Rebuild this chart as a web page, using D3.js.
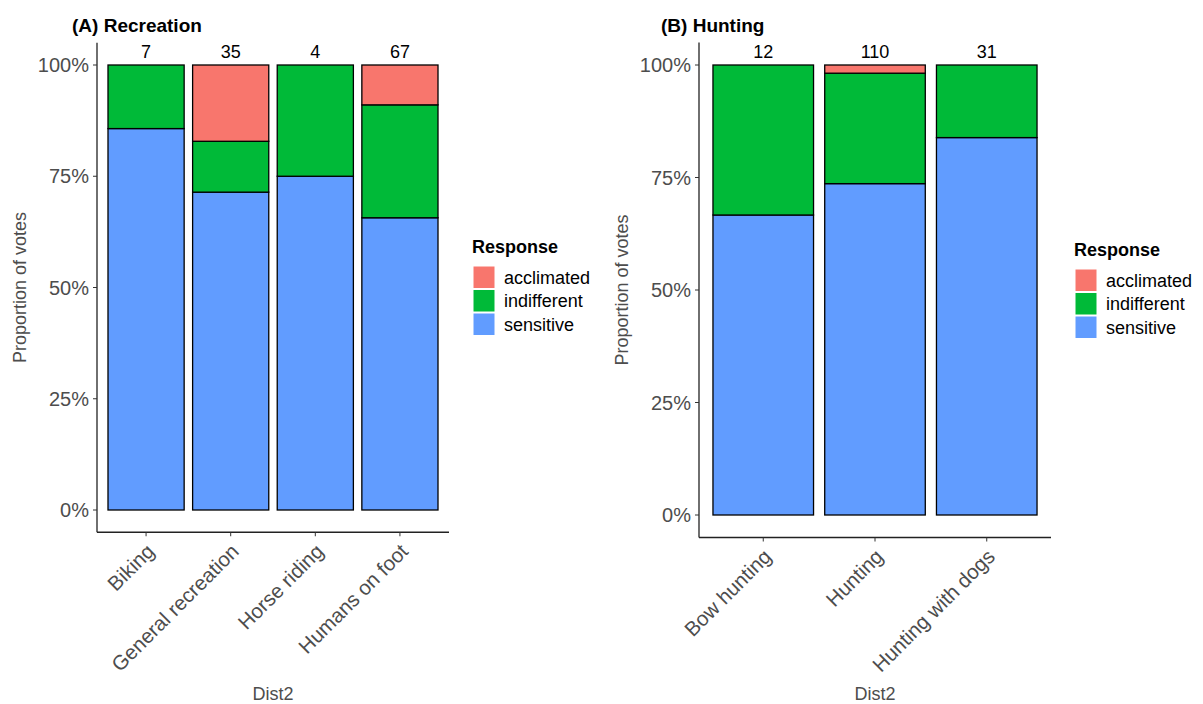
<!DOCTYPE html>
<html><head><meta charset="utf-8">
<script src="https://cdn.jsdelivr.net/npm/d3@7"></script>
<style>body{margin:0;background:#fff}svg{display:block}text{font-family:"Liberation Sans",Arial,sans-serif}</style>
</head><body>
<svg id="c" width="1203" height="704"></svg>
<script>
const responses = ["acclimated","indifferent","sensitive"];
const colors = ["#F8766D","#00BA38","#619CFF"];
// Panel A: Recreation (vote counts)
const recCategories = ["Biking","General recreation","Horse riding","Humans on foot"];
const recAcclimated = [0,6,0,6];
const recIndifferent = [1,4,1,17];
const recSensitive = [6,25,3,44];
// Panel B: Hunting
const huntCategories = ["Bow hunting","Hunting","Hunting with dogs"];
const huntAcclimated = [0,2,0];
const huntIndifferent = [4,27,5];
const huntSensitive = [8,81,26];
const yTicks = [0,0.25,0.5,0.75,1];

const svg = d3.select("#c");
const color = d3.scaleOrdinal().domain(responses).range(colors);

function panel(o){
  const g = svg.append("g");
  const n = o.cats.length;
  const unit = (o.x1 - o.x0)/(n + 1.2);
  const x = d3.scaleBand().domain(o.cats).range([o.x0 + 0.6*unit - unit/2, o.x1 - 0.6*unit + unit/2]).paddingInner(0.1).paddingOuter(0.05);
  const y = d3.scaleLinear().domain([0,1]).range([o.y0, o.y1]);
  const rows = o.cats.map((c,i)=>({cat:c, acclimated:o.acc[i], indifferent:o.ind[i], sensitive:o.sen[i], total:o.acc[i]+o.ind[i]+o.sen[i]}));
  const stack = d3.stack().keys(["sensitive","indifferent","acclimated"]).value((d,k)=>d[k]/d.total);
  const layers = stack(rows);
  layers.forEach(L=>{
    g.selectAll(null).data(L.filter(d=>d[1]-d[0]>0)).enter().append("rect")
      .attr("x", d=>x(d.data.cat)).attr("width", x.bandwidth())
      .attr("y", d=>y(d[1])).attr("height", d=>y(d[0])-y(d[1]))
      .attr("fill", color(L.key)).attr("stroke","#000").attr("stroke-width",1.3);
  });
  // counts
  g.selectAll(null).data(rows).enter().append("text")
    .attr("x", d=>x(d.cat)+x.bandwidth()/2).attr("y", 58)
    .attr("text-anchor","middle").attr("font-size",18).attr("fill","#000").text(d=>d.total);
  // axes
  const top = y(1) - 0.05*(o.y0-o.y1), bot = o.y0 + 0.05*(o.y0-o.y1);
  g.append("line").attr("x1",o.x0).attr("x2",o.x0).attr("y1",top).attr("y2",bot).attr("stroke","#222").attr("stroke-width",1.3);
  g.append("line").attr("x1",o.x0).attr("x2",o.x1).attr("y1",bot).attr("y2",bot).attr("stroke","#222").attr("stroke-width",1.3);
  yTicks.forEach(t=>{
    g.append("line").attr("x1",o.x0-4).attr("x2",o.x0).attr("y1",y(t)).attr("y2",y(t)).attr("stroke","#333");
    g.append("text").attr("x",o.x0-8).attr("y",y(t)).attr("dy","0.36em").attr("text-anchor","end")
      .attr("font-size",20).attr("fill","#4d4d4d").text(d3.format(".0%")(t));
  });
  o.cats.forEach(c=>{
    const cx = x(c)+x.bandwidth()/2;
    g.append("line").attr("x1",cx).attr("x2",cx).attr("y1",bot).attr("y2",bot+4).attr("stroke","#333");
    g.append("text").attr("transform",`translate(${cx-1},${bot+10}) rotate(-45)`)
      .attr("text-anchor","end").attr("dy","0.72em").attr("font-size",20.5).attr("fill","#4d4d4d").text(c);
  });
  g.append("text").attr("transform",`translate(${o.x0-71},${(top+bot)/2}) rotate(-90)`).attr("text-anchor","middle")
    .attr("font-size",18).attr("fill","#4d4d4d").text("Proportion of votes");
  g.append("text").attr("x",(o.x0+o.x1)/2).attr("y",700).attr("text-anchor","middle").attr("font-size",18).attr("fill","#4d4d4d").text("Dist2");
  g.append("text").attr("x",o.tx).attr("y",32).attr("font-size",19).attr("font-weight","bold").attr("fill","#000").text(o.title);
  // legend
  const lg = g.append("g").attr("transform",`translate(${o.lx},${o.ly})`);
  lg.append("text").attr("x",0).attr("y",0).attr("font-size",18).attr("font-weight","bold").attr("fill","#000").text("Response");
  responses.forEach((r,i)=>{
    lg.append("rect").attr("x",1).attr("y",13+i*23.5).attr("width",22).attr("height",22.5).attr("fill",color(r)).attr("stroke","#fff").attr("stroke-width",1);
    lg.append("text").attr("x",32).attr("y",13+i*23.5+11.5).attr("dy","0.36em").attr("font-size",18).attr("fill","#000").text(r);
  });
}

panel({cats:recCategories, acc:recAcclimated, ind:recIndifferent, sen:recSensitive,
  x0:97, x1:449, y0:510, y1:65, tx:72, title:"(A) Recreation", lx:472, ly:253});
panel({cats:huntCategories, acc:huntAcclimated, ind:huntIndifferent, sen:huntSensitive,
  x0:699, x1:1051, y0:515, y1:65, tx:661, title:"(B) Hunting", lx:1074, ly:256});
</script>
</body></html>
